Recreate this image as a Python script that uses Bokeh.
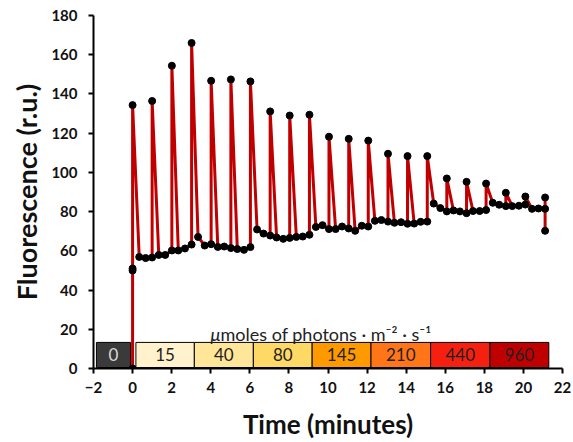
from bokeh.plotting import figure
from bokeh.models import Range1d, FixedTicker, ColumnDataSource, Label
from bokeh.embed import file_html
from bokeh.resources import INLINE
from bokeh.core.properties import value

# Time (minutes) and fluorescence (r.u.)
time_min = [0.00, 0.00, 0.00, 0.00,
            0.34, 0.67, 1.00, 1.00, 1.34, 1.67, 2.01, 2.01, 2.34, 2.68, 3.02, 3.02,
            3.35, 3.69, 4.02, 4.02, 4.36, 4.69, 5.03, 5.03, 5.36, 5.70, 6.03, 6.03,
            6.37, 6.70, 7.04, 7.04, 7.37, 7.71, 8.04, 8.04, 8.38, 8.71, 9.05, 9.05,
            9.38, 9.72, 10.05, 10.05, 10.39, 10.72, 11.06, 11.06, 11.39, 11.73, 12.06, 12.06,
            12.40, 12.73, 13.07, 13.07, 13.40, 13.74, 14.07, 14.07, 14.41, 14.74, 15.08, 15.08,
            15.41, 15.75, 16.08, 16.08, 16.42, 16.75, 17.09, 17.09, 17.42, 17.76, 18.09, 18.09,
            18.43, 18.76, 19.10, 19.10, 19.43, 19.77, 20.10, 20.10, 20.44, 20.77, 21.11, 21.11,
            21.11]
fluorescence = [0.0, 50.0, 51.0, 134.3,
                56.9, 56.3, 56.6, 136.4, 57.9, 57.9, 60.2, 154.4, 60.2, 61.2, 63.2, 166.0,
                67.1, 62.7, 63.4, 146.7, 62.0, 62.2, 61.4, 147.4, 60.9, 60.5, 61.9, 146.4,
                70.9, 68.8, 67.8, 131.1, 66.8, 66.1, 66.6, 129.0, 67.1, 67.3, 68.2, 129.4,
                72.2, 73.1, 71.1, 118.2, 71.1, 72.4, 71.4, 117.1, 70.2, 72.8, 72.4, 116.2,
                75.3, 75.7, 74.9, 109.5, 74.3, 74.6, 73.8, 108.3, 73.9, 74.8, 74.9, 108.3,
                84.1, 81.8, 80.1, 96.9, 80.6, 80.1, 79.2, 95.2, 80.3, 80.3, 80.8, 94.3,
                84.5, 83.5, 82.8, 89.6, 82.8, 83.0, 83.6, 87.7, 81.4, 81.6, 81.4, 87.2,
                70.2]

# Light intensity bands (µmoles of photons m-2 s-1)
light_levels = ["0", "15", "40", "80", "145", "210", "440", "960"]
level_start = [-1.85, 0.17, 3.16, 6.18, 9.19, 12.20, 15.25, 18.29]
level_end = [-0.10, 3.16, 6.18, 9.19, 12.20, 15.25, 18.29, 21.30]
level_colors = ["#3a3a3a", "#fff2cc", "#ffe699", "#ffd966", "#ff9900", "#ff7518", "#f52010", "#c00000"]
level_text_colors = ["#d9d9d9", "#222222", "#222222", "#222222", "#222222", "#222222", "#222222", "#222222"]

x_ticks = [-2, 0, 2, 4, 6, 8, 10, 12, 14, 16, 18, 20, 22]
y_ticks = [0, 20, 40, 60, 80, 100, 120, 140, 160, 180]

FONT = "Lato"

p = figure(width=573, height=442, x_range=Range1d(-2, 22), y_range=Range1d(0, 180),
           output_backend="svg", toolbar_location=None,
           min_border_left=93, min_border_right=11, min_border_top=15, min_border_bottom=74)
p.outline_line_color = None
p.xgrid.visible = False
p.ygrid.visible = False
p.background_fill_color = "white"

band_src = ColumnDataSource(dict(
    left=level_start, right=level_end, color=level_colors, label=light_levels,
    tcolor=level_text_colors,
    xc=[(a + b) / 2 for a, b in zip(level_start, level_end)],
))
p.quad(left="left", right="right", bottom=0.5, top=13.3, fill_color="color",
       line_color="black", line_width=1, source=band_src)
p.text(x="xc", y=6.9, text="label", text_color="tcolor", text_align="center",
       text_baseline="middle", text_font=value(FONT), text_font_size="17px", source=band_src)

p.line(time_min, fluorescence, line_color="#c00000", line_width=3)
p.scatter(time_min, fluorescence, size=7, fill_color="black", line_color="black")

p.add_layout(Label(x=4.5, y=17.6, text="\u03bc", text_align="right", text_baseline="alphabetic",
                   text_font=FONT, text_font_style="italic", text_font_size="18px",
                   text_color="#222222"))
p.add_layout(Label(x=4.5, y=17.6, text="moles of photons \u00b7 m\u207b\u00b2 \u00b7 s\u207b\u00b9",
                   text_align="left", text_baseline="alphabetic", text_font=FONT,
                   text_font_size="18px", text_color="#222222"))

for ax in (p.xaxis[0], p.yaxis[0]):
    ax.axis_line_width = 2
    ax.axis_line_color = "black"
    ax.major_tick_line_width = 2
    ax.major_tick_line_color = "black"
    ax.major_tick_out = 5
    ax.major_tick_in = 0
    ax.minor_tick_line_color = None
    ax.major_label_text_font = FONT
    ax.major_label_text_font_style = "bold"
    ax.major_label_text_font_size = "15px"
    ax.major_label_text_color = "#111111"
    ax.axis_label_text_font = FONT
    ax.axis_label_text_font_style = "bold"
    ax.axis_label_text_color = "#111111"

p.xaxis.axis_label_text_font_size = "26px"
p.yaxis.axis_label_text_font_size = "27px"
p.xaxis.ticker = FixedTicker(ticks=x_ticks)
p.yaxis.ticker = FixedTicker(ticks=y_ticks)
p.xaxis.axis_label = "Time (minutes)"
p.yaxis.axis_label = "Fluorescence (r.u.)"
p.xaxis.major_label_standoff = 8
p.yaxis.major_label_standoff = 11
p.xaxis.axis_label_standoff = 12
p.yaxis.axis_label_standoff = 5

open("out.html", "w").write(file_html(p, INLINE))
